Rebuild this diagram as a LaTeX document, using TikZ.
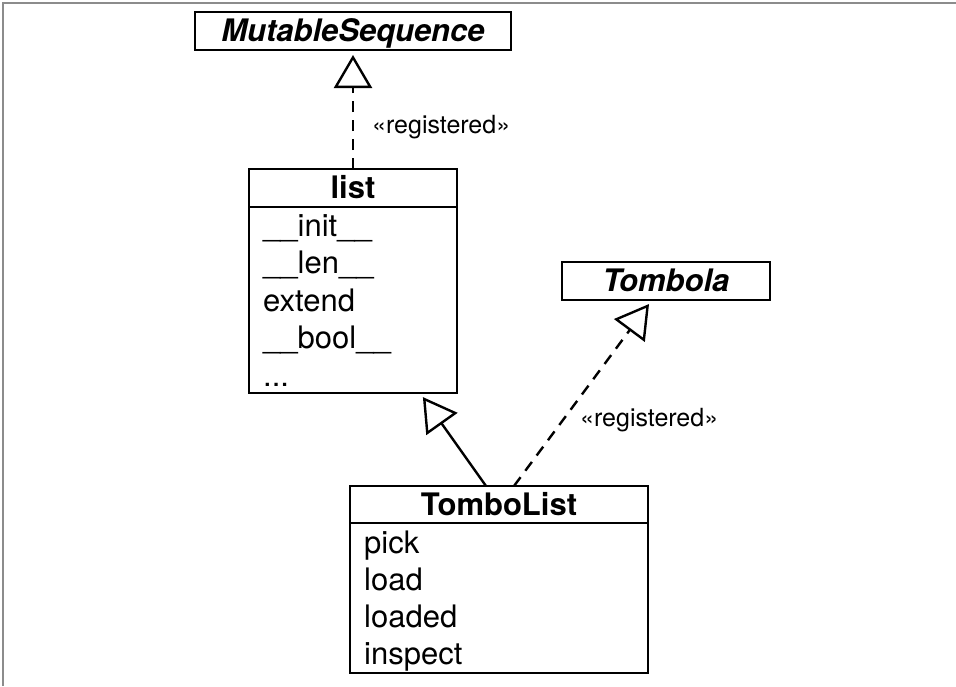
\documentclass[tikz,border=0pt]{standalone}
\usepackage{fontspec}
\setmainfont{TeX Gyre Heros}
\usetikzlibrary{arrows.meta}
\begin{document}
\begin{tikzpicture}[x=1pt,y=-1pt,
  box/.style={draw, line width=2.6pt, inner sep=0pt, outer sep=0pt},
  hdr/.style={box, font=\fontsize{31}{37}\selectfont\bfseries, text height=22pt, text depth=1pt},
  abst/.style={box, font=\fontsize{31}{37}\selectfont\bfseries\itshape, text height=22pt, text depth=1pt},
  item/.style={font=\fontsize{31}{37}\selectfont, anchor=base west, inner sep=0pt},
  lbl/.style={font=\fontsize{25}{30}\selectfont, anchor=west, inner sep=0pt},
  conn/.style={line width=2.4pt},
  gen/.style={-{Triangle[open, length=33pt, width=38pt]}},
  dsh/.style={dash pattern=on 11pt off 8pt},
]
\useasboundingbox (0,0) rectangle (956,686);
\draw[black!45, line width=1.5pt] (3,686) -- (3,3) -- (956,3);

% MutableSequence
\node[abst, minimum width=316pt, minimum height=38pt] (ms) at (353,31) {MutableSequence};

% list
\node[hdr, minimum width=208pt, minimum height=38pt] (listh) at (353,188) {list};
\node[box, minimum width=208pt, minimum height=186pt] (listb) at (353,300) {};
\node[item] (l1) at (263,236) {\_\_init\_\_};
\node[item] (l2) at (263,273.5) {\_\_len\_\_};
\node[item] (l3) at (263,311) {extend};
\node[item] (l4) at (263,348.5) {\_\_bool\_\_};
\node[item] (l5) at (263,386) {...};

% Tombola
\node[abst, minimum width=208pt, minimum height=38pt] (tom) at (666,281) {Tombola};

% TomboList
\node[hdr, minimum width=298pt, minimum height=37pt] (tlh) at (499,504.5) {TomboList};
\node[box, minimum width=298pt, minimum height=150pt] (tlb) at (499,598) {};
\node[item] (t1) at (364,553) {pick};
\node[item] (t2) at (364,590) {load};
\node[item] (t3) at (364,627) {loaded};
\node[item] (t4) at (364,664) {inspect};

% connectors
\draw[conn, dsh, gen, shorten >=5pt] (listh.north) -- (ms.south);
\draw[conn, gen, shorten >=5pt] ([xshift=136pt]tlh.north west) -- ([xshift=171pt]listb.south west);
\draw[conn, dsh, gen, shorten >=5pt] ([xshift=164pt]tlh.north west) -- ([xshift=90pt]tom.south west);

% labels
\node[lbl] (r1) at (372,127) {«registered»};
\node[lbl] (r2) at (580,420) {«registered»};
\end{tikzpicture}
\end{document}
